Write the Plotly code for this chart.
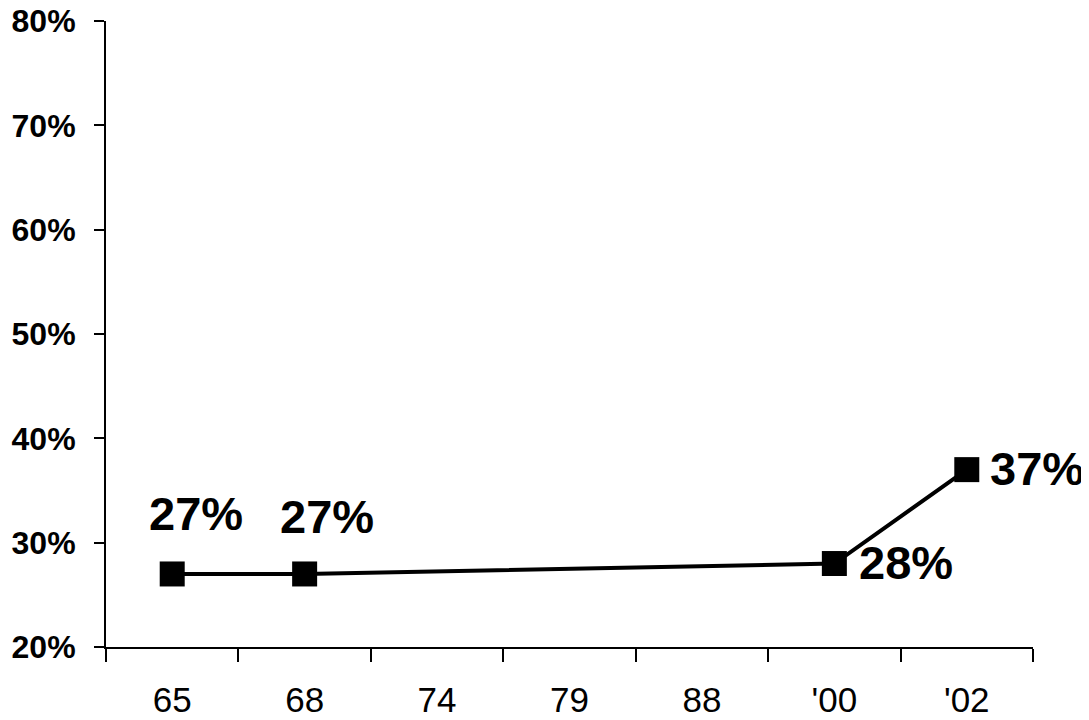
import plotly.graph_objects as go

years = ["65", "68", "74", "79", "88", "'00", "'02"]
values = [27, 27, None, None, None, 28, 37]
labels = ["27%", "27%", None, None, None, "28%", "37%"]

# label placement styles (pixel shifts relative to each point)
label_style = {
    0: dict(xanchor="center", yanchor="middle", xshift=24, yshift=60),
    1: dict(xanchor="center", yanchor="middle", xshift=22, yshift=57),
    5: dict(xanchor="left", yanchor="middle", xshift=23, yshift=1),
    6: dict(xanchor="left", yanchor="middle", xshift=21, yshift=1),
}

fig = go.Figure()
fig.add_trace(go.Scatter(
    x=years, y=values, mode="lines+markers", connectgaps=True,
    line=dict(color="black", width=4),
    marker=dict(symbol="square", size=25, color="black"),
    showlegend=False, hoverinfo="skip",
))

for i, (y, t) in enumerate(zip(values, labels)):
    if t is None:
        continue
    fig.add_annotation(x=i, y=y, text=t, showarrow=False,
                       font=dict(family="Liberation Sans, Arial, sans-serif", size=47, color="black", weight="bold"),
                       **label_style[i])

# the page adds an 8px body margin, so the figure is sized to fit inside the window
fig.update_layout(
    width=1081, height=712,
    margin=dict(l=98, r=56, t=13, b=73),
    plot_bgcolor="white", paper_bgcolor="white",
)
fig.update_xaxes(
    type="category", categoryorder="array", categoryarray=years,
    range=[-0.5, len(years) - 0.5],
    showline=True, linecolor="black", linewidth=2,
    ticks="outside", tickson="boundaries", ticklen=13, tickwidth=1.5, tickcolor="black",
    showgrid=False, zeroline=False, automargin=False,
    tickfont=dict(family="Liberation Sans, Arial, sans-serif", size=35, color="black"),
    ticklabelstandoff=21, ticklabeloverflow="allow",
)
fig.update_yaxes(
    range=[20, 80], dtick=10, tick0=20, ticksuffix="%",
    showline=True, linecolor="black", linewidth=2,
    ticks="outside", ticklen=10, tickwidth=1.5, tickcolor="black",
    showgrid=False, zeroline=False, automargin=False,
    tickfont=dict(family="Liberation Sans, Arial, sans-serif", size=32, color="black", weight="bold"),
    ticklabelstandoff=12, ticklabeloverflow="allow",
)

fig.write_html("out.html")
